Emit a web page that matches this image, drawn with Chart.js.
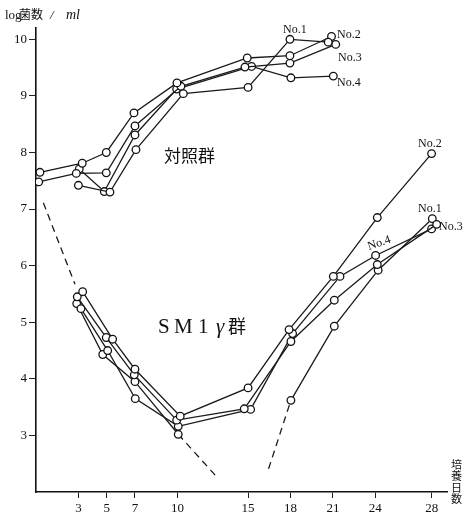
<!DOCTYPE html>
<html lang="ja">
<head>
<meta charset="UTF-8">
<title>chart</title>
<style>
  body { margin: 0; background: #fff; }
</style>
</head>
<body>
<canvas id="myChart" width="467" height="515"></canvas>

<script src="https://cdn.jsdelivr.net/npm/chart.js"></script>
<script>
// tick labels
const xTicks = [3, 5, 7, 10, 15, 18, 21, 24, 28];
const yTicks = [3, 4, 5, 6, 7, 8, 9, 10];

const ctrlNo1Days = [3.0, 5.23, 7.07, 10.42, 15.0, 17.96, 20.67];
const ctrlNo1Vals = [7.42, 7.30, 8.05, 9.04, 9.15, 10.0, 9.95];
const ctrlNo2Days = [0.28, 3.27, 4.97, 6.93, 9.97, 14.94, 17.96, 20.9];
const ctrlNo2Vals = [7.65, 7.81, 8.00, 8.70, 9.23, 9.67, 9.71, 10.05];
const ctrlNo3Days = [0.19, 2.85, 4.97, 7.0, 10.25, 14.78, 17.96, 21.2];
const ctrlNo3Vals = [7.48, 7.63, 7.64, 8.47, 9.17, 9.51, 9.58, 9.91];
const ctrlNo4Days = [3.06, 4.83, 7.0, 9.95, 15.25, 18.03, 21.03];
const ctrlNo4Vals = [7.71, 7.31, 8.31, 9.12, 9.52, 9.32, 9.35];

// SM1 γ群
const smNo2Days = [3.3, 5.42, 7.0, 10.2, 15.0, 17.9, 21.03, 24.14, 27.98];
const smNo2Vals = [5.54, 4.70, 4.17, 3.34, 3.84, 4.87, 5.81, 6.85, 7.98];
const smNo3Days = [2.92, 4.97, 6.95, 9.95, 14.73, 18.03, 21.1, 24.14, 28.34];
const smNo3Vals = [5.45, 4.73, 4.07, 3.27, 3.47, 4.66, 5.39, 6.02, 6.73];
const smNo4Days = [3.18, 5.07, 7.02, 10.06, 15.18, 18.15, 21.5, 24.02, 27.98];
const smNo4Vals = [5.24, 4.50, 3.65, 3.16, 3.46, 4.80, 5.81, 6.18, 6.65];
const smNo1DaysA = [2.88, 4.72, 7.0, 10.06];
const smNo1ValsA = [5.33, 4.43, 3.95, 3.02];
const smNo1DaysB = [18.03, 21.1, 24.2, 28.03];
const smNo1ValsB = [3.62, 4.93, 5.92, 6.83];

// dashed extrapolations
const dashStartDays = [0.52, 2.76];
const dashStartVals = [7.11, 5.67];
const dashDropDays = [10.06, 12.7];
const dashDropVals = [3.02, 2.29];
const dashRiseDays = [16.45, 18.03];
const dashRiseVals = [2.41, 3.62];

const xTitle = ['培', '養', '日', '数'];

const pts = (d, v) => d.map((x, i) => ({ x: x, y: v[i] }))

const lineSet = (d, v) => ({
  data: pts(d, v),
  showLine: true,
  borderColor: '#1a1a1a',
  borderWidth: 1.3,
  pointRadius: 3.8,
  pointBackgroundColor: '#fff',
  pointBorderColor: '#111',
  pointBorderWidth: 1.3,
  tension: 0
})
const dashSet = (d, v) => ({
  data: pts(d, v),
  showLine: true,
  borderColor: '#1a1a1a',
  borderWidth: 1.3,
  borderDash: [7, 5],
  pointRadius: 0,
  tension: 0
})

const serif = '"Liberation Serif", "DejaVu Serif", serif';
const cjk = '"Noto Sans CJK JP", sans-serif';

// texts drawn on the canvas
const textPlugin = {
  id: 'texts',
  afterDraw(chart) {
    const c = chart.ctx;
    c.save();
    c.fillStyle = '#111';
    c.textBaseline = 'alphabetic';
    c.textAlign = 'left';

    // y axis title
    c.font = '13px ' + serif;
    c.fillText('log', 5, 19);
    c.font = '12px ' + cjk;
    c.fillText('菌数', 19, 19);
    c.font = 'italic 13px ' + serif;
    c.fillText('/', 50, 19);
    c.font = 'italic 14px ' + serif;
    c.fillText('ml', 66, 19);

    // x axis title, one character under the other
    c.font = '11px ' + cjk;
    c.textAlign = 'left';
    c.textBaseline = 'top';
    xTitle.forEach((ch, i) => c.fillText(ch, 451, 459 + i * 11.5));

    // group labels
    c.textBaseline = 'alphabetic';
    c.font = '17px ' + cjk;
    c.fillText('対照群', 164, 162);
    c.font = '21px ' + serif;
    c.fillText('S', 158, 333);
    c.fillText('M', 174, 333);
    c.fillText('1', 198, 333);
    c.font = 'italic 21px ' + serif;
    c.fillText('γ', 216, 333);
    c.font = '18px ' + cjk;
    c.fillText('群', 228, 333);

    // series labels
    c.font = '12px ' + serif;
    c.fillText('No.1', 283, 33);
    c.fillText('No.2', 337, 38);
    c.fillText('No.3', 338, 61);
    c.fillText('No.4', 337, 86);
    c.fillText('No.2', 418, 147);
    c.fillText('No.1', 418, 212);
    c.fillText('No.3', 439, 230);
    c.save();
    c.translate(369, 250);
    c.rotate(-0.33);
    c.fillText('No.4', 0, 0);
    c.restore();

    c.restore();
  }
}

const ctx = document.getElementById('myChart');
new Chart(ctx, {
  type: 'scatter',
  data: {
    datasets: [
      lineSet(ctrlNo1Days, ctrlNo1Vals),
      lineSet(ctrlNo2Days, ctrlNo2Vals),
      lineSet(ctrlNo3Days, ctrlNo3Vals),
      lineSet(ctrlNo4Days, ctrlNo4Vals),
      lineSet(smNo2Days, smNo2Vals),
      lineSet(smNo3Days, smNo3Vals),
      lineSet(smNo4Days, smNo4Vals),
      lineSet(smNo1DaysA, smNo1ValsA),
      lineSet(smNo1DaysB, smNo1ValsB),
      dashSet(dashStartDays, dashStartVals),
      dashSet(dashDropDays, dashDropVals),
      dashSet(dashRiseDays, dashRiseVals)
    ]
  },
  options: {
    responsive: false,
    devicePixelRatio: 1,
    animation: false,
    layout: { padding: { top: 28, right: 20, left: 0, bottom: 0 } },
    plugins: { legend: { display: false }, tooltip: { enabled: false } },
    scales: {
      x: {
        type: 'linear',
        min: 0,
        max: 29.07,
        afterBuildTicks: (axis) => { axis.ticks = xTicks.map(v => ({ value: v })) },
        afterFit: (scale) => { scale.height = 23 },
        grid: { drawOnChartArea: false, drawTicks: true, tickLength: 6, color: '#222', lineWidth: 1 },
        border: { color: '#111', width: 1.6 },
        ticks: { color: '#111', padding: 3, font: { family: serif, size: 13 }, maxRotation: 0 }
      },
      y: {
        min: 2.0,
        max: 10.2,
        afterBuildTicks: (axis) => { axis.ticks = yTicks.map(v => ({ value: v })) },
        afterFit: (scale) => { scale.width = 36 },
        grid: { drawOnChartArea: false, drawTicks: true, tickLength: 7, color: '#222', lineWidth: 1 },
        border: { color: '#111', width: 1.6 },
        ticks: { color: '#111', padding: 2, font: { family: serif, size: 13 } }
      }
    }
  },
  plugins: [textPlugin]
});
</script>
</body>
</html>
